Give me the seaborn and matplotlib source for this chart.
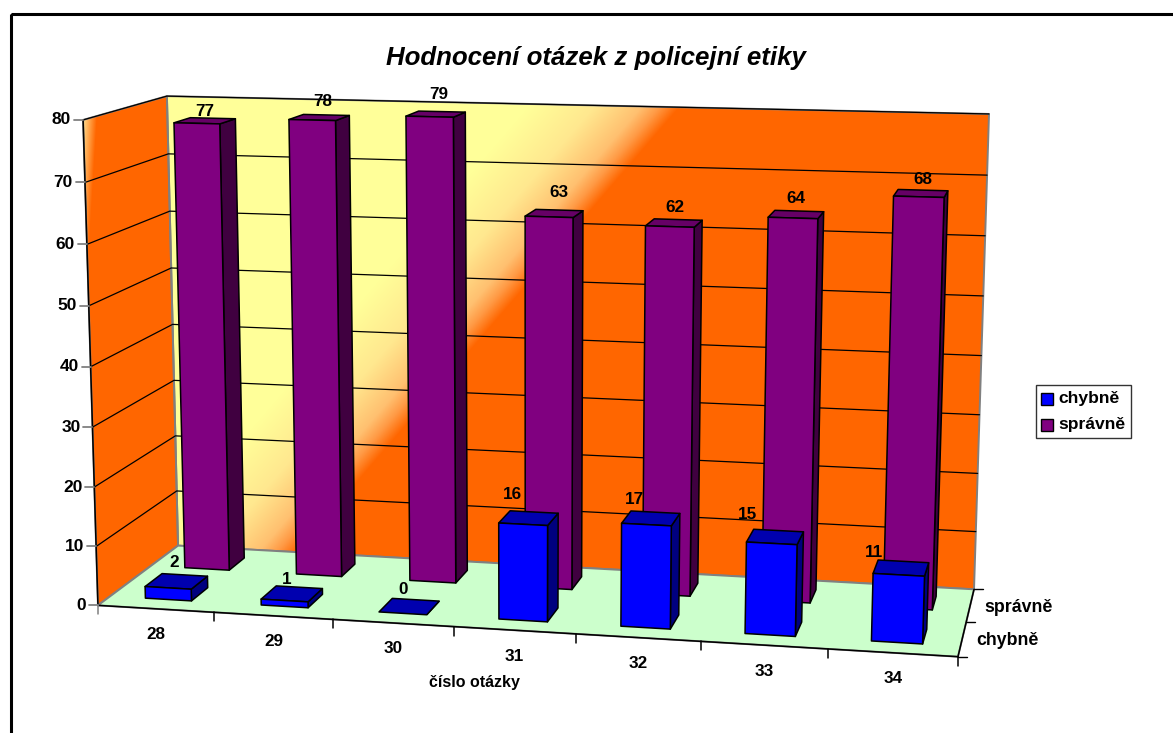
import numpy as np
import matplotlib
matplotlib.use("Agg")
import matplotlib.pyplot as plt
from matplotlib.patches import Polygon, Rectangle
from matplotlib.colors import LinearSegmentedColormap
import seaborn as sns

# ---- data ----
questions = ["28", "29", "30", "31", "32", "33", "34"]
chybne = [2, 1, 0, 16, 17, 15, 11]
spravne = [77, 78, 79, 63, 62, 64, 68]
series_names = ["chybně", "správně"]
value_ticks = [0, 10, 20, 30, 40, 50, 60, 70, 80]

# ---- label placement (pixels relative to the projected bar top, y grows downward) ----
nudge_chybne = [(-2, -19), (-5, -14), (-6, -17), (-15, -24), (-16, -19), (-27, -22), (-26, -15)]
nudge_spravne = [(1, -9), (4, -16), (4, -20), (5, -21), (2, -16), (1, -16), (3, -14)]

sns.set_theme(style="white")
plt.rcParams["font.family"] = ["Liberation Sans", "DejaVu Sans"]
plt.rcParams["text.color"] = "black"

W, H = 1173, 733
fig = plt.figure(figsize=(W / 100, H / 100), dpi=100, facecolor="white")
ax = fig.add_axes([0, 0, 1, 1])
ax.set_xlim(0, W)
ax.set_ylim(H, 0)
ax.axis("off")

# ---- perspective camera fitted to the box corners: (category, depth, value) -> pixel ----
n_cat, n_ser, vmax = len(questions), 2, value_ticks[-1]
calib = [((0, 0, 0), (98, 605)), ((0, 0, vmax), (83, 120)), ((0, n_ser, vmax), (167, 96)),
         ((0, n_ser, 0), (178, 546)), ((n_cat, n_ser, vmax), (989, 114)),
         ((n_cat, n_ser, 0), (974, 589)), ((n_cat, 0, 0), (958, 657))]
A, b = [], []
for (X, Y, Z), (u, v) in calib:
    A.append([X, Y, Z, 1, 0, 0, 0, 0, -u * X, -u * Y, -u * Z])
    A.append([0, 0, 0, 0, X, Y, Z, 1, -v * X, -v * Y, -v * Z])
    b += [u, v]
sol = np.linalg.lstsq(np.array(A, float), np.array(b, float), rcond=None)[0]
P = np.append(sol, 1).reshape(3, 4)


def project(x, y, z):
    h = P @ np.array([x, y, z, 1.0])
    return h[0] / h[2], h[1] / h[2]


def face(points, color, lw=1.1, edge="black", z=2):
    ax.add_patch(Polygon([project(*p) for p in points], closed=True, facecolor=color,
                         edgecolor=edge, linewidth=lw, zorder=z, joinstyle="round"))


def gradient_wall(points, stops, normal, c0, c1, z=1):
    poly = Polygon([project(*p) for p in points], closed=True, transform=ax.transData,
                   facecolor="none", edgecolor="none")
    ax.add_patch(poly)
    xx, yy = np.meshgrid(np.arange(W) + 0.5, np.arange(H) + 0.5)
    t = np.clip((xx * normal[0] + yy * normal[1] - c0) / (c1 - c0), 0, 1)
    cmap = LinearSegmentedColormap.from_list("wall", stops, N=512)
    im = ax.imshow(t, cmap=cmap, vmin=0, vmax=1, extent=(0, W, H, 0), aspect="auto", zorder=z,
                   interpolation="nearest")
    im.set_clip_path(poly)


YELLOW, ORANGE = "#FFFF99", "#FF6600"
back = [(0, n_ser, 0), (n_cat, n_ser, 0), (n_cat, n_ser, vmax), (0, n_ser, vmax)]
left = [(0, 0, 0), (0, n_ser, 0), (0, n_ser, vmax), (0, 0, vmax)]
floor = [(0, 0, 0), (n_cat, 0, 0), (n_cat, n_ser, 0), (0, n_ser, 0)]
gradient_wall(back, [(0, YELLOW), (0.435, "#FFE88F"), (0.748, "#FFC070"), (0.87, "#FF9A45"), (1, ORANGE)],
              (0.758, 0.652), 470, 585)
gradient_wall(left, [(0, "#FFE090"), (1, ORANGE)], (1.0, 0.06), 90, 104)

GREY = "#808080"
for pts in (back, left):
    face(pts, "none", lw=1.4, edge=GREY, z=1.5)
face(floor, "#CCFFCC", lw=1.4, edge=GREY, z=1.5)

# front axis edges
for a, bb in (((0, 0, 0), (n_cat, 0, 0)), ((n_cat, 0, 0), (n_cat, n_ser, 0)), ((0, 0, 0), (0, 0, vmax))):
    p, q = project(*a), project(*bb)
    ax.plot([p[0], q[0]], [p[1], q[1]], color="black", lw=1.1, zorder=1.8)

# gridlines and value axis
for t in value_ticks[1:]:
    pts = [project(0, 0, t), project(0, n_ser, t), project(n_cat, n_ser, t)]
    ax.plot(*zip(*pts), color="black", lw=0.9, zorder=1.6)
for t in value_ticks:
    x0, y0 = project(0, 0, t)
    ax.plot([x0 - 9, x0], [y0, y0], color=GREY, lw=1.3, zorder=1.8)
    ax.text(x0 - 12, y0, str(t), ha="right", va="center", fontsize=12.5, fontweight="bold")

# category ticks and labels
for i in range(n_cat + 1):
    x0, y0 = project(i, 0, 0)
    ax.plot([x0, x0], [y0, y0 + 9], color="black" if i else GREY, lw=1.1, zorder=1.8)
for i, q in enumerate(questions):
    x0, y0 = project(i + 0.5, 0, 0)
    ax.text(x0, y0 + 26, q, ha="center", va="center", fontsize=12.3, fontweight="bold")

# series axis ticks and labels
for j in range(n_ser + 1):
    x0, y0 = project(n_cat, j, 0)
    ax.plot([x0, x0 + 9], [y0, y0], color="black", lw=1.0, zorder=1.8)
for j, name in enumerate(series_names):
    x0, y0 = project(n_cat, j + 0.5, 0)
    ax.text(x0 + 14, y0 + 2, name, ha="left", va="center", fontsize=12.8, fontweight="bold")

# ---- bars ----
bar_half_x, bar_half_y, bar_shift = 0.20, 0.21, 0.006


def bar3d(i, j, value, front, top, side):
    x0, x1 = i + 0.5 + bar_shift - bar_half_x, i + 0.5 + bar_shift + bar_half_x
    y0, y1 = j + 0.5 - bar_half_y, j + 0.5 + bar_half_y
    z = 3 + (1 - j) * 4
    face([(x1, y0, 0), (x1, y1, 0), (x1, y1, value), (x1, y0, value)], side, z=z)
    face([(x0, y0, value), (x1, y0, value), (x1, y1, value), (x0, y1, value)], top, z=z)
    if value > 0:
        face([(x0, y0, 0), (x1, y0, 0), (x1, y0, value), (x0, y0, value)], front, z=z)


styles = {0: ("#0000FF", "#0000AF", "#00007F"), 1: ("#800080", "#660066", "#400040")}
for jj, series, nudges in ((1, spravne, nudge_spravne), (0, chybne, nudge_chybne)):
    for i, v in enumerate(series):
        bar3d(i, jj, v, *styles[jj])
        cx, cy = project(i + 0.5, jj + 0.5, v)
        dx, dy = nudges[i]
        ax.annotate(str(v), xy=(cx, cy), xytext=(dx, -dy), textcoords="offset pixels", ha="center",
                    va="center", fontsize=12.3, fontweight="bold", zorder=10 if jj == 1 else 11)

# ---- title, axis title, legend, frame ----
ax.text(596, 58, "Hodnocení otázek z policejní etiky", ha="center", va="center", fontsize=18.6,
        fontweight="bold", fontstyle="italic")
ax.text(474, 682, "číslo otázky", ha="center", va="center", fontsize=11.5, fontweight="bold")
ax.add_patch(Rectangle((1036, 385), 95, 53, facecolor="white", edgecolor="#333333", lw=1.0, zorder=5))
for k, (name, col) in enumerate(zip(series_names, ("#0000FF", "#800080"))):
    y = 399 + k * 26
    ax.add_patch(Rectangle((1041, y - 6), 12, 12, facecolor=col, edgecolor="black", lw=1.0, zorder=6))
    ax.text(1058, y, name, ha="left", va="center", fontsize=12.6, fontweight="bold", zorder=6)
ax.add_patch(Rectangle((10.5, 13.5), W + 40, H + 40, facecolor="none", edgecolor="black", lw=2.2, zorder=20))

fig.savefig("out.png", dpi=100)
